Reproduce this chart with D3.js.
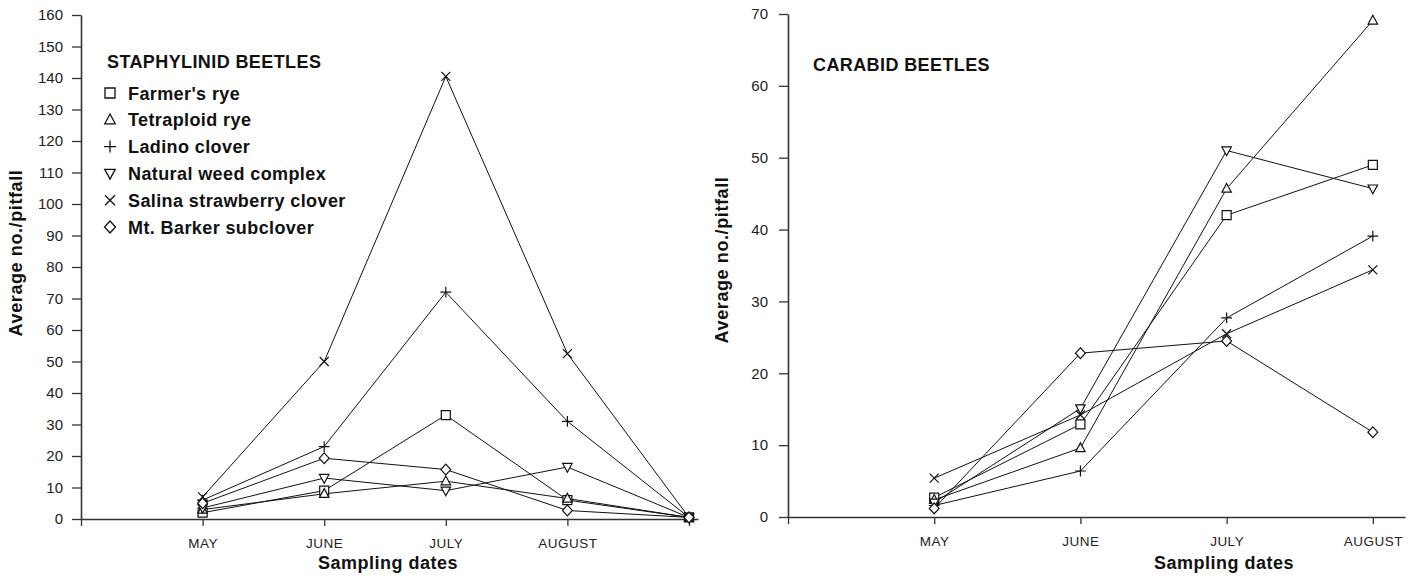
<!DOCTYPE html>
<html>
<head>
<meta charset="utf-8">
<script src="https://cdn.jsdelivr.net/npm/d3@7"></script>
<style>
  body { margin: 0; background: #fff; }
  text { font-family: "Liberation Sans", Arial, sans-serif; }
</style>
</head>
<body>
<svg width="1418" height="576"></svg>
<script>

// treatments and the marker used for each one
const treatments = ["Farmer's rye", "Tetraploid rye", "Ladino clover", "Natural weed complex", "Salina strawberry clover", "Mt. Barker subclover"]
const markerTypes = ["square", "triangle", "plus", "triangleDown", "x", "diamond"]

// x tick labels (index 0 is the y axis, last left one is unlabeled)
const staphMonths = ["", "MAY", "JUNE", "JULY", "AUGUST", ""]
const carabMonths = ["", "MAY", "JUNE", "JULY", "AUGUST"]

const staphTicks = [0, 10, 20, 30, 40, 50, 60, 70, 80, 90, 100, 110, 120, 130, 140, 150, 160]
const carabTicks = [0, 10, 20, 30, 40, 50, 60, 70]

// staphylinid beetles: May, June, July, August, (end)
const staphFarmersRye   = [2, 9, 33, 6, 0.5]
const staphTetraploid   = [3, 8, 12, 6.5, 0.5]
const staphLadino       = [6, 23, 72, 31, 0.5]
const staphWeeds        = [3.5, 13, 9, 16.5, 0.5]
const staphSalina       = [7, 50, 140.5, 52.5, 0.5]
const staphMtBarker     = [5, 19.3, 15.7, 2.7, 0.5]

// carabid beetles: May, June, July, August
const carabFarmersRye   = [2.7, 12.9, 42, 49]
const carabTetraploid   = [2.4, 9.6, 45.7, 69.1]
const carabLadino       = [1.6, 6.4, 27.7, 39.1]
const carabWeeds        = [2.0, 15.1, 51, 45.7]
const carabSalina       = [5.4, 14.2, 25.5, 34.4]
const carabMtBarker     = [1.2, 22.8, 24.5, 11.8]

const staphData = [staphFarmersRye, staphTetraploid, staphLadino, staphWeeds, staphSalina, staphMtBarker]
const carabData = [carabFarmersRye, carabTetraploid, carabLadino, carabWeeds, carabSalina, carabMtBarker]

const svg = d3.select("svg")
const ink = "#111"
const axisInk = "#333"

function markerPath(type, r) {
  const p = d3.path()
  if (type == "square") {
    p.rect(-r, -r, 2*r, 2*r)
  } else if (type == "triangle") {
    p.moveTo(0, -r*1.15); p.lineTo(r*1.05, r*0.8); p.lineTo(-r*1.05, r*0.8); p.closePath()
  } else if (type == "triangleDown") {
    p.moveTo(0, r*1.15); p.lineTo(r*1.05, -r*0.8); p.lineTo(-r*1.05, -r*0.8); p.closePath()
  } else if (type == "plus") {
    p.moveTo(-r*1.2, 0); p.lineTo(r*1.2, 0); p.moveTo(0, -r*1.2); p.lineTo(0, r*1.2)
  } else if (type == "x") {
    p.moveTo(-r, -r); p.lineTo(r, r); p.moveTo(r, -r); p.lineTo(-r, r)
  } else {
    p.moveTo(0, -r*1.2); p.lineTo(r*1.1, 0); p.lineTo(0, r*1.2); p.lineTo(-r*1.1, 0); p.closePath()
  }
  return p.toString()
}

function drawPanel(opt) {
  const x = d3.scaleLinear().domain(opt.xDomain).range(opt.xRange)
  const y = d3.scaleLinear().domain(opt.yDomain).range(opt.yRange)

  const yAxis = d3.axisLeft(y)
    .tickValues(opt.yTicks)
    .tickSize(9)
    .tickSizeOuter(0)
    .tickPadding(opt.yPad)
    .tickFormat(d3.format("d"))

  const gy = svg.append("g")
    .attr("transform", `translate(${opt.xRange[0]},0)`)
    .call(yAxis)

  const xAxis = d3.axisBottom(x)
    .tickValues(d3.range(opt.months.length))
    .tickSize(7)
    .tickSizeOuter(0)
    .tickPadding(12)
    .tickFormat(i => opt.months[i])

  const gx = svg.append("g")
    .attr("transform", `translate(0,${opt.yRange[0]})`)
    .call(xAxis)

  for (const g of [gx, gy]) {
    g.select(".domain").attr("stroke", axisInk).attr("stroke-width", 1.6)
    g.selectAll(".tick line").attr("stroke", axisInk).attr("stroke-width", 1.3)
    g.selectAll(".tick text").attr("fill", "#222").style("font-family", "'Liberation Sans', Arial, sans-serif")
  }
  gy.selectAll(".tick text").style("font-size", "15px")
  gx.selectAll(".tick text").style("font-size", "13.5px").style("letter-spacing", "0.5px")

  // lines
  const line = d3.line()
    .x((d, i) => x(i + 1))
    .y(d => y(d))

  opt.data.forEach((vals, s) => {
    svg.append("path")
      .datum(vals)
      .attr("d", line)
      .attr("fill", "none")
      .attr("stroke", ink)
      .attr("stroke-width", 1)
  })

  // markers
  opt.data.forEach((vals, s) => {
    svg.append("g").selectAll("path")
      .data(vals)
      .enter()
      .append("path")
      .attr("transform", (d, i) => `translate(${x(i + 1)},${y(d)})`)
      .attr("d", markerPath(markerTypes[s], 4.5))
      .attr("fill", markerTypes[s] == "plus" || markerTypes[s] == "x" ? "none" : "#fff")
      .attr("stroke", ink)
      .attr("stroke-width", 1.2)
  })

  // axis titles
  svg.append("text")
    .attr("transform", `translate(${opt.yTitleX},${opt.yTitleY}) rotate(-90)`)
    .attr("text-anchor", "middle")
    .attr("font-size", "18px")
    .attr("font-weight", "bold")
    .attr("letter-spacing", "0.6px")
    .attr("fill", ink)
    .text("Average no./pitfall")

  svg.append("text")
    .attr("x", opt.xTitleX)
    .attr("y", 569)
    .attr("text-anchor", "middle")
    .attr("font-size", "18px")
    .attr("font-weight", "bold")
    .attr("letter-spacing", "0.5px")
    .attr("fill", ink)
    .text("Sampling dates")

  svg.append("text")
    .attr("x", opt.titleX)
    .attr("y", opt.titleY)
    .attr("font-size", "18px")
    .attr("font-weight", "bold")
    .attr("letter-spacing", "0.4px")
    .attr("fill", ink)
    .text(opt.title)

  return {x, y}
}

drawPanel({
  xDomain: [0, 5.074], xRange: [81, 698],
  yDomain: [0, 160], yRange: [519, 15],
  yTicks: staphTicks, yPad: 9,
  months: staphMonths,
  data: staphData,
  yTitleX: 22, yTitleY: 253,
  xTitleX: 388,
  title: "STAPHYLINID BEETLES", titleX: 107, titleY: 68
})

drawPanel({
  xDomain: [0, 4.22], xRange: [788, 1405],
  yDomain: [0, 70], yRange: [517, 14],
  yTicks: carabTicks, yPad: 11,
  months: carabMonths,
  data: carabData,
  yTitleX: 728, yTitleY: 260,
  xTitleX: 1224,
  title: "CARABID BEETLES", titleX: 813, titleY: 71
})

// legend for the staphylinid panel
const legend = svg.append("g")
  .selectAll("g")
  .data(treatments)
  .enter()
  .append("g")
  .attr("transform", (d, i) => `translate(110,${93 + i * 26.8})`)

legend.append("path")
  .attr("d", (d, i) => markerPath(markerTypes[i], 5))
  .attr("fill", "none")
  .attr("stroke", ink)
  .attr("stroke-width", 1.3)

legend.append("text")
  .attr("x", 18)
  .attr("y", 6.5)
  .attr("font-size", "18px")
  .attr("font-weight", "bold")
  .attr("letter-spacing", "0.4px")
  .attr("fill", ink)
  .text(d => d)

</script>
</body>
</html>
